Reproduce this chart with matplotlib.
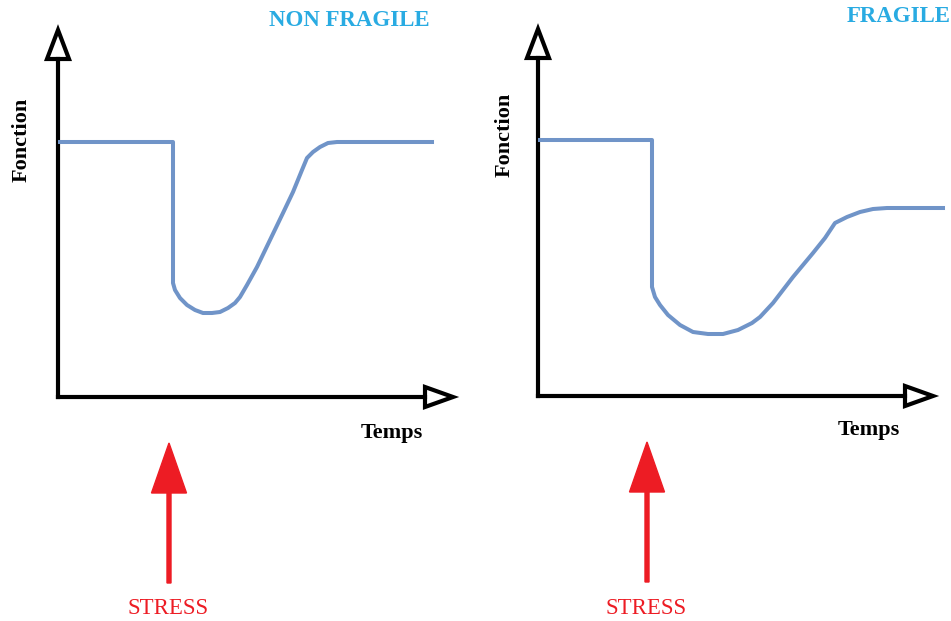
import matplotlib.pyplot as plt
from matplotlib.patches import Polygon

# curve points (time, function), origin at the axes corner
t_robust = [2, 115, 115, 117, 122, 129, 137, 145, 154, 162, 170, 177, 182, 189, 199,
            212, 225, 235, 244, 249, 255, 262, 270, 279, 374]
f_robust = [255, 255, 114, 107, 99, 92, 87, 84, 84, 85, 89, 94, 100, 112, 130,
            157, 184, 205, 227, 239, 245, 250, 254, 255, 255]

t_fragile = [2, 114, 114, 117, 122, 130, 142, 155, 170, 185, 200, 214, 222, 235, 255,
             275, 287, 297, 309, 322, 335, 349, 405]
f_fragile = [256, 256, 109, 99, 91, 81, 71, 64, 62, 62, 66, 73, 79, 93, 119,
             143, 158, 173, 179, 184, 187, 188, 188]

titles = ["NON FRAGILE", "FRAGILE"]
curve_color = "#7094c8"
title_color = "#29abe2"
stress_color = "#ed1c24"
serif = "Liberation Serif"

W, H = 951, 621
fig = plt.figure(figsize=(W / 100, H / 100), dpi=100)


def panel(x0, y0, t, f, title, title_xy, fonc_xy, temps_xy, stress_x):
    # axes placed so that one data unit is one pixel
    ax = fig.add_axes([x0 / W, (H - y0) / H, 395 / W, 368 / H])
    ax.set_xlim(0, 395)
    ax.set_ylim(0, 368)
    ax.axis("off")

    # axis lines with open arrowheads
    ax.plot([0, 0], [0, 338], color="black", lw=3, solid_capstyle="projecting", clip_on=False)
    ax.plot([0, 367], [0, 0], color="black", lw=3, solid_capstyle="projecting", clip_on=False)
    ax.add_patch(Polygon([[-11, 338], [11, 338], [0, 367]], closed=True, fc="white",
                         ec="black", lw=3, joinstyle="miter", clip_on=False))
    ax.add_patch(Polygon([[367, -10], [367, 10], [395, 0]], closed=True, fc="white",
                         ec="black", lw=3, joinstyle="miter", clip_on=False))

    ax.plot(t, f, color=curve_color, lw=2.9, solid_joinstyle="round", clip_on=False)

    ax.text(*title_xy, title, color=title_color, fontsize=16.5, fontweight="bold",
            family=serif, ha="center", va="center")
    ax.text(*fonc_xy, "Fonction", rotation=90, fontsize=16, fontweight="bold",
            family=serif, ha="center", va="center")
    ax.text(*temps_xy, "Temps", fontsize=16, fontweight="bold",
            family=serif, ha="center", va="center")

    # stress arrow under the graph
    ax.arrow(stress_x, -186, 0, 140, width=4, head_width=35, head_length=50,
             length_includes_head=True, color=stress_color, clip_on=False)
    ax.text(stress_x - 1, -212, "STRESS", color=stress_color, fontsize=16.5,
            family=serif, ha="center", va="center")
    return ax


panel(58, 397, t_robust, f_robust, titles[0], (291, 377), (-36, 257), (334, -36), 111)
panel(538, 396, t_fragile, f_fragile, titles[1], (361, 379), (-33, 261), (331, -34), 109)

plt.savefig("out.png", dpi=100)
